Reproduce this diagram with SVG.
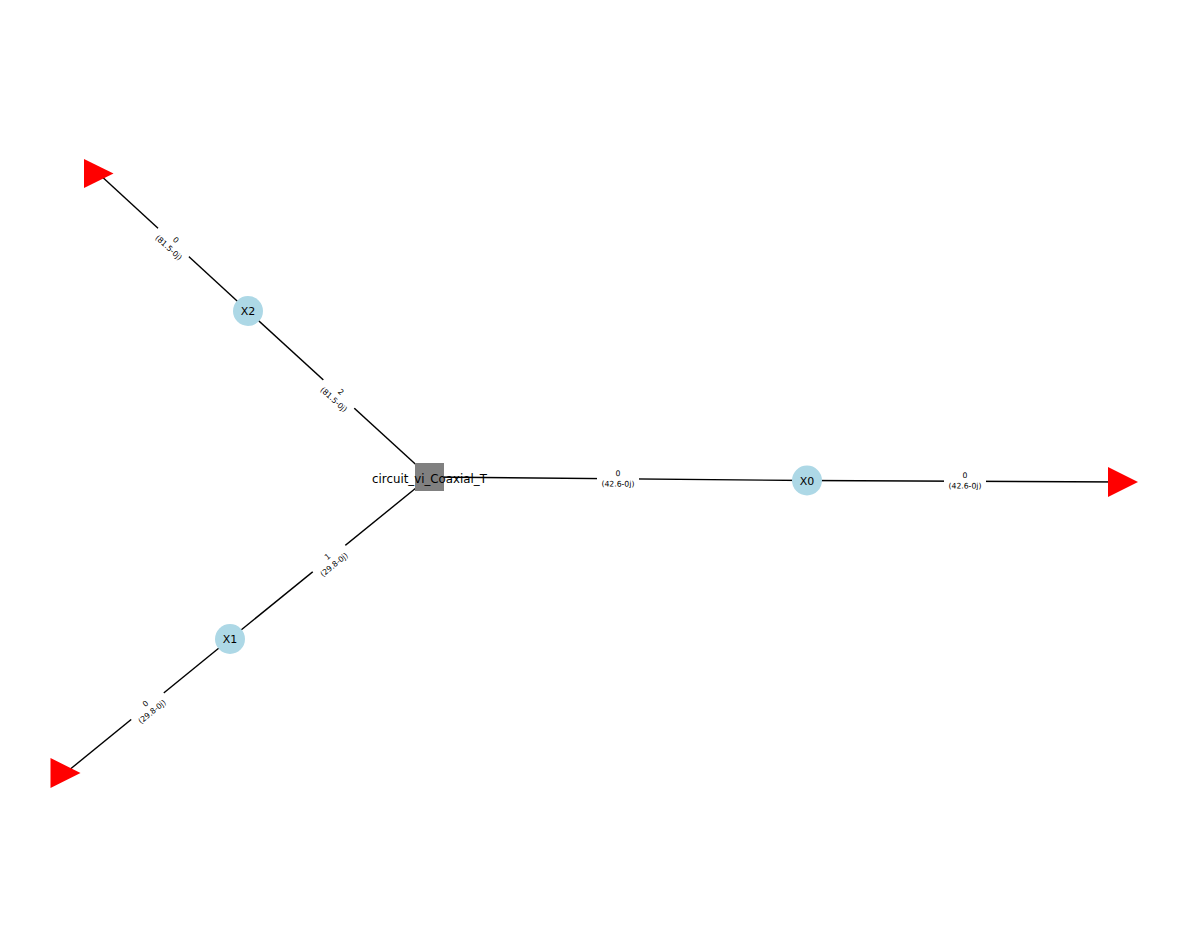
<svg xmlns="http://www.w3.org/2000/svg" width="1187" height="947" viewBox="0 0 1187 947">
<style>
.edge{stroke:#000;stroke-width:1.4;fill:none}
.circ{fill:#ADD8E6}
.tri{fill:#FF0000}
.hub{fill:#808080}
.nl{font-family:"DejaVu Sans",sans-serif;font-size:11px;fill:#000;text-anchor:middle}
.hl{font-size:11.8px}
.el{font-family:"DejaVu Sans",sans-serif;font-size:7.7px;fill:#000;text-anchor:middle}
.elbox{fill:#fff;stroke:none}
</style>
<defs>
<g id="lab0"><rect class="elbox" x="-21" y="-13" width="42" height="25" rx="4"/></g>
</defs>
<rect width="1187" height="947" fill="#fff"/>
<g id="connectors">
<line class="edge" x1="429.5" y1="477" x2="807" y2="480.5"/>
<line class="edge" x1="807" y1="480.5" x2="1123" y2="482"/>
<line class="edge" x1="429.5" y1="477" x2="248" y2="311"/>
<line class="edge" x1="248" y1="311" x2="98.5" y2="173.5"/>
<line class="edge" x1="429.5" y1="477" x2="230" y2="639"/>
<line class="edge" x1="230" y1="639" x2="65.5" y2="773"/>
</g>
<g id="hub">
<rect class="hub" x="415" y="463" width="29" height="28"/>
<text class="nl hl" x="429.5" y="482.5">circuit_vi_Coaxial_T</text>
</g>
<g id="X0">
<circle class="circ" cx="807" cy="480.5" r="15"/>
<text class="nl" x="807" y="484.5">X0</text>
</g>
<g id="X1">
<circle class="circ" cx="230" cy="639" r="15"/>
<text class="nl" x="230" y="643">X1</text>
</g>
<g id="X2">
<circle class="circ" cx="248" cy="311" r="15"/>
<text class="nl" x="248" y="315">X2</text>
</g>
<g id="port_right">
<polygon class="tri" points="1108,467 1138,482 1108,497"/>
</g>
<g id="port_topleft">
<polygon class="tri" points="84,159 113.5,173.5 84,188"/>
</g>
<g id="port_bottomleft">
<polygon class="tri" points="50.5,758 80.5,773 50.5,788"/>
</g>
<g id="edge-labels">
<g transform="translate(618,479) rotate(0.5)">
<use href="#lab0"/>
<text class="el" y="-3">0</text><text class="el" y="7.5">(42.6-0j)</text>
</g>
<g transform="translate(965,481) rotate(0.3)">
<use href="#lab0"/>
<text class="el" y="-3">0</text><text class="el" y="7.5">(42.6-0j)</text>
</g>
<g transform="translate(337,396) rotate(42.4)">
<use href="#lab0"/>
<text class="el" y="-3">2</text><text class="el" y="7.5">(81.5-0j)</text>
</g>
<g transform="translate(172,244) rotate(42.6)">
<use href="#lab0"/>
<text class="el" y="-3">0</text><text class="el" y="7.5">(81.5-0j)</text>
</g>
<g transform="translate(331,561) rotate(-39.1)">
<use href="#lab0"/>
<text class="el" y="-3">1</text><text class="el" y="7.5">(29.8-0j)</text>
</g>
<g transform="translate(149,708) rotate(-39.2)">
<use href="#lab0"/>
<text class="el" y="-3">0</text><text class="el" y="7.5">(29.8-0j)</text>
</g>
</g>
</svg>
